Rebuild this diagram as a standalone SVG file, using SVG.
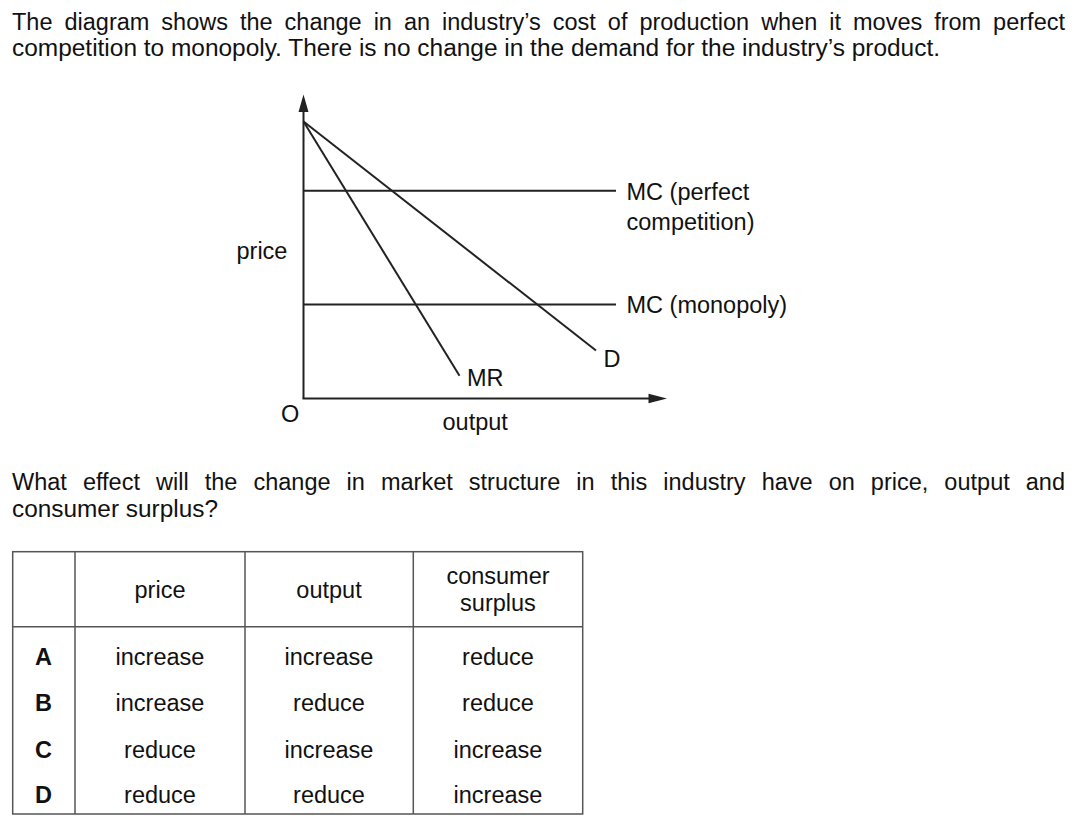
<svg xmlns="http://www.w3.org/2000/svg" width="1080" height="825" viewBox="0 0 1080 825">
<style>
text{font-family:"Liberation Sans",Arial,sans-serif;font-size:23.5px;fill:#111}
.c{text-anchor:middle}
.b{font-weight:bold}
.ln{stroke:#222;stroke-width:2;fill:none}
.tb{stroke:#555;stroke-width:1.5;fill:none}
</style>
<rect width="1080" height="825" fill="#fff"/>
<g id="intro">
<text x="12" y="29.5" word-spacing="5.4" textLength="1053" lengthAdjust="spacing">The diagram shows the change in an industry’s cost of production when it moves from perfect</text>
<text x="12" y="56" textLength="928" lengthAdjust="spacingAndGlyphs">competition to monopoly. There is no change in the demand for the industry’s product.</text>
</g>
<g id="axes">
<line class="ln" x1="303.5" y1="398.5" x2="303.5" y2="108"/>
<polygon points="303.5,94.5 298.5,112 308.5,112" fill="#222"/>
<line class="ln" x1="302.5" y1="398.5" x2="652" y2="398.5"/>
<polygon points="667,398.5 648.5,393.8 648.5,403.2" fill="#222"/>
<text x="236.5" y="259">price</text>
<text x="281" y="421.5">O</text>
<text x="442.5" y="430">output</text>
</g>
<g id="connectors">
<line id="mc-perfect" class="ln" x1="303.5" y1="190.7" x2="616" y2="190.7"/>
<line id="mc-monopoly" class="ln" x1="303.5" y1="304.5" x2="616" y2="304.5"/>
<line id="demand" class="ln" x1="303.5" y1="121.5" x2="596" y2="350.5"/>
<line id="mr" class="ln" x1="303.5" y1="121.5" x2="459.5" y2="375.8"/>
</g>
<g id="labels">
<text x="626.5" y="199.5">MC (perfect</text>
<text x="626.5" y="229.5">competition)</text>
<text x="626.5" y="313">MC (monopoly)</text>
<text x="603.5" y="366.5">D</text>
<text x="467" y="386">MR</text>
</g>
<g id="question">
<text x="12" y="490" word-spacing="9.5" textLength="1053" lengthAdjust="spacing">What effect will the change in market structure in this industry have on price, output and</text>
<text x="12" y="517" textLength="206" lengthAdjust="spacingAndGlyphs">consumer surplus?</text>
</g>
<g id="table">
<rect class="tb" x="12.7" y="551.7" width="570" height="262.3"/>
<line class="tb" x1="75" y1="551.7" x2="75" y2="814"/>
<line class="tb" x1="245" y1="551.7" x2="245" y2="814"/>
<line class="tb" x1="413.3" y1="551.7" x2="413.3" y2="814"/>
<line class="tb" x1="12.7" y1="626.7" x2="582.7" y2="626.7"/>
<text class="c" x="160" y="598">price</text>
<text class="c" x="329" y="598">output</text>
<text class="c" x="498" y="584">consumer</text>
<text class="c" x="498" y="611">surplus</text>
<text class="c b" x="43.5" y="665">A</text>
<text class="c" x="160" y="665">increase</text>
<text class="c" x="329" y="665">increase</text>
<text class="c" x="498" y="665">reduce</text>
<text class="c b" x="43.5" y="711">B</text>
<text class="c" x="160" y="711">increase</text>
<text class="c" x="329" y="711">reduce</text>
<text class="c" x="498" y="711">reduce</text>
<text class="c b" x="43.5" y="757.5">C</text>
<text class="c" x="160" y="757.5">reduce</text>
<text class="c" x="329" y="757.5">increase</text>
<text class="c" x="498" y="757.5">increase</text>
<text class="c b" x="43.5" y="803">D</text>
<text class="c" x="160" y="803">reduce</text>
<text class="c" x="329" y="803">reduce</text>
<text class="c" x="498" y="803">increase</text>
</g>
</svg>
